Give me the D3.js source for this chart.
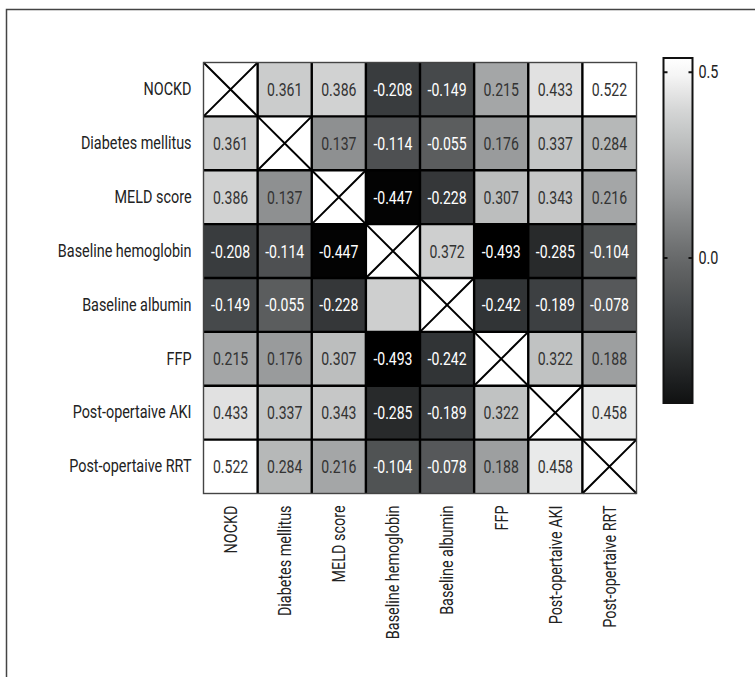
<!DOCTYPE html>
<html>
<head>
<meta charset="utf-8">
<script src="https://cdn.jsdelivr.net/npm/d3@7"></script>
<style>
  body { margin: 0; background: #fff; }
  svg text { font-family: "Roboto", "Noto Sans", sans-serif; }
</style>
</head>
<body>
<div id="chart"></div>
<script>
(function () {
  // --------------------------- data ---------------------------
  const variables = [
    "NOCKD",
    "Diabetes mellitus",
    "MELD score",
    "Baseline hemoglobin",
    "Baseline albumin",
    "FFP",
    "Post-opertaive AKI",
    "Post-opertaive RRT"
  ];

  // correlation matrix, null on the diagonal
  const corr = [
    [null, 0.361, 0.386, -0.208, -0.149, 0.215, 0.433, 0.522],
    [0.361, null, 0.137, -0.114, -0.055, 0.176, 0.337, 0.284],
    [0.386, 0.137, null, -0.447, -0.228, 0.307, 0.343, 0.216],
    [-0.208, -0.114, -0.447, null, 0.372, -0.493, -0.285, -0.104],
    [-0.149, -0.055, -0.228, 0.372, null, -0.242, -0.189, -0.078],
    [0.215, 0.176, 0.307, -0.493, -0.242, null, 0.322, 0.188],
    [0.433, 0.337, 0.343, -0.285, -0.189, 0.322, null, 0.458],
    [0.522, 0.284, 0.216, -0.104, -0.078, 0.188, 0.458, null]
  ];

  // cells that are shaded but carry no printed number ([row, col])
  const unlabeled = [[4, 3]];

  const legendTicks = [0.5, 0.0];
  const legendDomain = [-0.39, 0.538];

  // --------------------------- layout ---------------------------
  const width = 755;
  const height = 677;
  const fs = 18;
  const squeeze = 0.8;      // fake a condensed face for labels
  const squeezeNum = 0.78;  // and for the numbers in the cells

  const svg = d3.select("#chart")
    .append("svg")
    .attr("width", width)
    .attr("height", height);

  // outer frame of the figure (runs off right/bottom edge)
  svg.append("rect")
    .attr("x", 6.5).attr("y", 9.5)
    .attr("width", 800).attr("height", 720)
    .attr("fill", "none")
    .attr("stroke", "#444")
    .attr("stroke-width", 1.5);

  const x = d3.scaleBand().domain(variables).range([203.5, 636.5]);
  const y = d3.scaleBand().domain(variables).range([62.5, 493.5]);

  const color = d3.scaleLinear()
    .domain([-0.46, -0.2, 0, 0.2, 0.4, 0.52])
    .range(["#000000", "#3b3e40", "#67696a", "#a0a2a3", "#d5d6d6", "#ffffff"])
    .clamp(true);

  const cells = [];
  corr.forEach((row, i) => row.forEach((v, j) => {
    cells.push({
      r: variables[i], c: variables[j], v: v,
      hide: unlabeled.some(u => u[0] === i && u[1] === j)
    });
  }));

  const g = svg.append("g");

  g.selectAll("rect.cell")
    .data(cells)
    .join("rect")
    .attr("class", "cell")
    .attr("x", d => x(d.c))
    .attr("y", d => y(d.r))
    .attr("width", x.bandwidth())
    .attr("height", y.bandwidth())
    .attr("fill", d => d.v === null ? "#fff" : color(d.v));

  // crosses on the diagonal
  const diag = cells.filter(d => d.v === null);
  g.selectAll("path.cross")
    .data(diag)
    .join("path")
    .attr("class", "cross")
    .attr("d", d => {
      const x0 = x(d.c), y0 = y(d.r), x1 = x0 + x.bandwidth(), y1 = y0 + y.bandwidth();
      return `M${x0},${y0}L${x1},${y1}M${x1},${y0}L${x0},${y1}`;
    })
    .attr("stroke", "#000")
    .attr("stroke-width", 2)
    .attr("fill", "none");

  g.selectAll("text.val")
    .data(cells.filter(d => d.v !== null && !d.hide))
    .join("text")
    .attr("class", "val")
    .attr("transform", d =>
      `translate(${x(d.c) + x.bandwidth() / 2},${y(d.r) + y.bandwidth() / 2}) scale(${squeezeNum},1)`)
    .attr("dy", "0.36em")
    .attr("text-anchor", "middle")
    .attr("font-size", fs)
    .attr("fill", d => d.v < 0 ? "#fff" : "#333")
    .text(d => d3.format(".3f")(d.v).replace("\u2212", "-"));

  // internal grid lines
  const inner = variables.slice(1);
  g.selectAll("line.vgrid")
    .data(inner)
    .join("line")
    .attr("x1", d => x(d)).attr("x2", d => x(d))
    .attr("y1", y.range()[0]).attr("y2", y.range()[1])
    .attr("stroke", "#000").attr("stroke-width", 2.4);
  g.selectAll("line.hgrid")
    .data(inner)
    .join("line")
    .attr("y1", d => y(d)).attr("y2", d => y(d))
    .attr("x1", x.range()[0]).attr("x2", x.range()[1])
    .attr("stroke", "#000").attr("stroke-width", 2.4);

  g.append("rect")
    .attr("x", x.range()[0]).attr("y", y.range()[0])
    .attr("width", x.range()[1] - x.range()[0])
    .attr("height", y.range()[1] - y.range()[0])
    .attr("fill", "none")
    .attr("stroke", "#444")
    .attr("stroke-width", 1.4);

  // --------------------------- axes ---------------------------
  const yAxis = svg.append("g")
    .attr("transform", `translate(${x.range()[0]},0)`)
    .call(d3.axisLeft(y).tickSize(0));
  yAxis.select(".domain").remove();
  yAxis.selectAll("text")
    .attr("font-size", fs)
    .attr("fill", "#222")
    .attr("x", -12 / squeeze)
    .attr("transform", `scale(${squeeze},1)`);

  const xAxis = svg.append("g")
    .attr("transform", `translate(0,${y.range()[1]})`)
    .call(d3.axisBottom(x).tickSize(0));
  xAxis.select(".domain").remove();
  xAxis.selectAll("text")
    .attr("font-size", fs)
    .attr("fill", "#222")
    .attr("transform", `rotate(-90) scale(${squeeze},1)`)
    .attr("x", -12 / squeeze)
    .attr("y", 0)
    .attr("dy", "0.35em")
    .style("text-anchor", "end");

  // --------------------------- colour bar ---------------------------
  const cbX = 663.5, cbW = 29;
  const cy = d3.scaleLinear().domain(legendDomain).range([403, 58]);

  const defs = svg.append("defs");
  const grad = defs.append("linearGradient")
    .attr("id", "cbgrad")
    .attr("x1", 0).attr("x2", 0).attr("y1", 1).attr("y2", 0);
  d3.range(0, 1.0001, 0.05).forEach(t => {
    const v = legendDomain[0] + t * (legendDomain[1] - legendDomain[0]);
    grad.append("stop").attr("offset", t).attr("stop-color", color(v));
  });

  svg.append("rect")
    .attr("x", cbX).attr("y", cy.range()[1])
    .attr("width", cbW)
    .attr("height", cy.range()[0] - cy.range()[1])
    .attr("fill", "url(#cbgrad)")
    .attr("stroke", "#111")
    .attr("stroke-width", 2);

  const cbAxis = svg.append("g")
    .attr("transform", `translate(${cbX + cbW},0)`)
    .call(d3.axisRight(cy).tickValues(legendTicks).tickFormat(d3.format(".1f")).tickSize(0));
  cbAxis.select(".domain").remove();
  cbAxis.selectAll("text")
    .attr("font-size", fs)
    .attr("fill", "#222")
    .attr("x", 6 / squeeze)
    .attr("transform", `scale(${squeeze},1)`);

  // little inward tick marks on both sides of the bar
  svg.selectAll("path.cbtick")
    .data(legendTicks)
    .join("path")
    .attr("class", "cbtick")
    .attr("d", d => `M${cbX},${cy(d)}h4M${cbX + cbW},${cy(d)}h-4`)
    .attr("stroke", "#111")
    .attr("stroke-width", 2);
})();
</script>
</body>
</html>
